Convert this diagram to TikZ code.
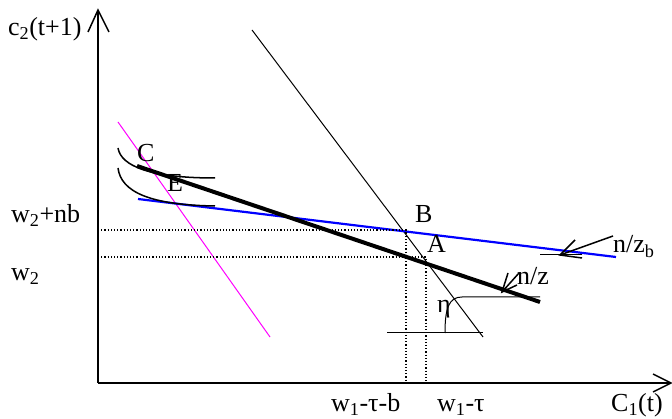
\documentclass[tikz,border=0pt]{standalone}
\usepackage{fontspec}
\setmainfont{Liberation Serif}
\definecolor{magentaB}{RGB}{255,0,255}
\definecolor{blueB}{RGB}{0,0,255}
\begin{document}
\begin{tikzpicture}[x=1pt,y=-1pt,
  lbl/.style={anchor=base west,inner sep=0pt,font=\fontsize{26}{30}\selectfont},
  axisline/.style={line width=1.5pt,black},
  thinline/.style={line width=1pt,black},
  thickline/.style={line width=4pt,black},
  budgetb/.style={line width=2.2pt,blueB},
  offer/.style={line width=1pt,magentaB},
  icurve/.style={line width=1.5pt,black},
  guide/.style={line width=1.2pt,black,dash pattern=on 1.2pt off 2pt},
  arr/.style={line width=1.5pt,black}]
\useasboundingbox (0,0) rectangle (672,419);
% axes
\coordinate (O) at (98,383);
\coordinate (Ytip) at (98,10);
\coordinate (Xtip) at (671,383);
\coordinate (Yw1) at (88,32);
\coordinate (Yw2) at (109,32);
\coordinate (Xw1) at (653,374);
\coordinate (Xw2) at (653,392);
\draw[axisline] (O) -- (Ytip);
\draw[axisline] (O) -- (Xtip);
\draw[axisline] (Yw1) -- (Ytip) -- (Yw2);
\draw[axisline] (Xw1) -- (Xtip) -- (Xw2);
% lines
\coordinate (T1) at (252,30);
\coordinate (T2) at (483,337);
\draw[thinline] (T1) -- (T2);
\coordinate (M1) at (118,122);
\coordinate (M2) at (270,337);
\draw[offer] (M1) -- (M2);
\coordinate (Bl1) at (138,199);
\coordinate (Bl2) at (616,257);
\draw[budgetb] (Bl1) -- (Bl2);
\coordinate (K1) at (137,166);
\coordinate (K2) at (540,302);
\draw[thickline] (K1) -- (K2);
% indifference curves
\coordinate (U1) at (118,148);
\coordinate (U2) at (215,178);
\draw[icurve] (U1) .. controls (121,166) and (150,178) .. (U2);
\coordinate (L1) at (118,168);
\coordinate (L2) at (215,206);
\draw[icurve] (L1) .. controls (121,192) and (150,205) .. (L2);
% dotted guides
\coordinate (By) at (98,230);
\coordinate (Bp) at (406,230);
\coordinate (Bx) at (406,383);
\coordinate (Ay) at (98,257);
\coordinate (Ap) at (426,257);
\coordinate (Ax) at (426,383);
\draw[guide] (By) -- (Bp) -- (Bx);
\draw[guide] (Ay) -- (Ap) -- (Ax);
% eta angle
\coordinate (H1) at (387,333);
\coordinate (H2) at (483,333);
\draw[thinline] (H1) -- (H2);
\coordinate (E0) at (445,333);
\coordinate (E1) at (462,297);
\coordinate (E2) at (540,297);
\draw[thinline] (E0) .. controls (445,308) and (449,297) .. (E1) -- (E2);
% n/z arrow
\coordinate (nzT) at (502,292);
\coordinate (nzS) at (519,273);
\coordinate (nzW1) at (508,273);
\coordinate (nzW2) at (517,285);
\draw[arr] (nzT) -- (nzS);
\draw[arr] (nzW1) -- (nzT) -- (nzW2);
% n/zb arrow
\coordinate (zbH1) at (540,255);
\coordinate (zbH2) at (582,255);
\draw[thinline] (zbH1) -- (zbH2);
\coordinate (zbT) at (560,255);
\coordinate (zbS) at (613,236);
\coordinate (zbW1) at (575,240);
\coordinate (zbW2) at (582,258);
\draw[arr] (zbT) -- (zbS);
\draw[arr] (zbW1) -- (zbT) -- (zbW2);
% labels
\node[lbl] (lc2) at (8,36) {c\textsubscript{2}(t+1)};
\node[lbl] (lw2nb) at (11,223) {w\textsubscript{2}+nb};
\node[lbl] (lw2) at (11,281) {w\textsubscript{2}};
\node[lbl] (lC) at (137,162) {C};
\node[lbl] (lE) at (167,192) {E};
\node[lbl] (lB) at (415,223) {B};
\node[lbl] (lA) at (427,253) {A};
\node[lbl] (leta) at (437,313) {η};
\node[lbl] (lnz) at (517,285) {n/z};
\node[lbl] (lnzb) at (613,253) {n/z\textsubscript{b}};
\node[lbl] (lw1tb) at (331,412) {w\textsubscript{1}-τ-b};
\node[lbl] (lw1t) at (437,412) {w\textsubscript{1}-τ};
\node[lbl] (lC1) at (611,412) {C\textsubscript{1}(t)};
\end{tikzpicture}
\end{document}
